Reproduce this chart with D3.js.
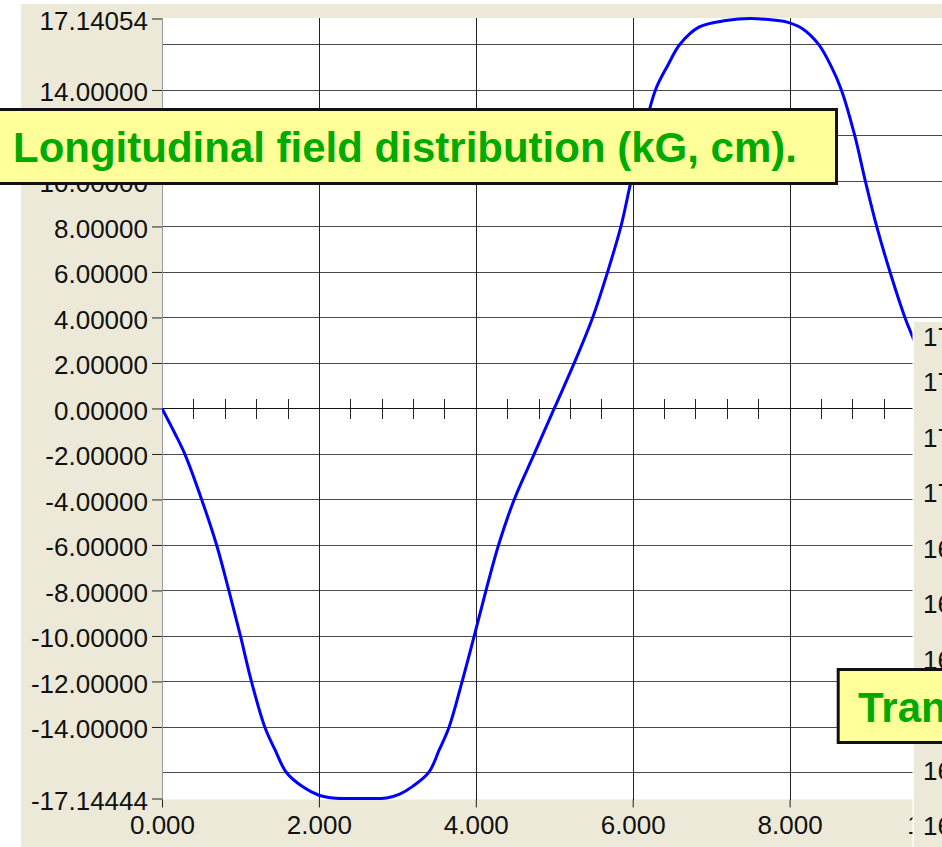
<!DOCTYPE html>
<html>
<head>
<meta charset="utf-8">
<script src="https://cdn.jsdelivr.net/npm/d3@7"></script>
<style>
  html, body { margin: 0; padding: 0; background: #ffffff; }
  svg { display: block; }
  text { font-family: "Liberation Sans", Arial, sans-serif; }
</style>
</head>
<body>
<svg id="chart" width="942" height="847"></svg>
<script>
// ---- data ----
const posCm = [0, 0.165, 0.29, 0.505, 0.696, 0.852, 1.0, 1.14, 1.31, 1.44, 1.586, 1.795, 2.0, 2.18, 2.5, 2.86, 3.03, 3.2, 3.40, 3.535, 3.66, 3.826, 3.98, 4.13, 4.29, 4.49, 4.745, 5.0, 5.255, 5.49, 5.68, 5.85, 5.98, 6.13, 6.29, 6.45, 6.60, 6.85, 7.19, 7.5, 7.82, 7.98, 8.16, 8.37, 8.535, 8.66, 8.83, 8.965, 9.11, 9.28, 9.47, 9.55, 9.71, 10.0];
const fieldKG = [0, -1.1, -2, -4, -6, -8, -10, -12, -14, -15, -16, -16.63, -17.0, -17.12, -17.14, -17.12, -16.95, -16.6, -16, -15, -14, -12, -10, -8, -6, -4, -2, 0, 2, 4, 6, 8, 10, 12, 14, 15.1, 16, 16.77, 17.05, 17.14, 17.06, 16.97, 16.70, 16, 15, 14, 12, 10, 8, 6, 4, 3.3, 2, 0];
const yMin = -17.14444, yMax = 17.14054;
const yTickVals = [17.14054, 14, 12, 10, 8, 6, 4, 2, 0, -2, -4, -6, -8, -10, -12, -14, -17.14444];
const yGridVals = [16, 14, 12, 10, 8, 6, 4, 2, -2, -4, -6, -8, -10, -12, -14, -16];
const xTickVals = [0, 2, 4, 6, 8, 10];
const xGridVals = [2, 4, 6, 8];
const minorStep = 0.4;
const titleMain = "Longitudinal field distribution (kG, cm).";
const titleSecond = "Transverse field distribution (kG, cm).";
const panelVals = [17.14054, 17.10, 17.05, 17.00, 16.95, 16.90, 16.85, 16.80, 16.75, 16.70];

// ---- layout ----
const W = 942, H = 847;
const beige = "#ECE9D8";
const svg = d3.select("#chart");
const fmt5 = v => d3.format(".5f")(v).replace("\u2212", "-");
const fmt3 = v => d3.format(".3f")(v).replace("\u2212", "-");

const x = d3.scaleLinear().domain([0, 10]).range([162, 946.5]);
const y = d3.scaleLinear().domain([yMin, yMax]).range([798.5, 18.5]);

// background
svg.append("rect").attr("x", 0).attr("y", 0).attr("width", W).attr("height", H).attr("fill", "#fff");
svg.append("rect").attr("x", 21).attr("y", 4).attr("width", W - 21).attr("height", H - 4).attr("fill", beige);

// plot area
const pTop = y(yMax) - 0.5, pBot = y(yMin) + 1;
svg.append("rect").attr("x", x(0)).attr("y", pTop).attr("width", W - x(0)).attr("height", pBot - pTop).attr("fill", "#fff");

svg.append("clipPath").attr("id", "clip").append("rect")
  .attr("x", x(0)).attr("y", pTop - 4).attr("width", W - x(0)).attr("height", pBot - pTop + 8);

const grid = svg.append("g").attr("shape-rendering", "crispEdges");
grid.selectAll("line.h").data(yGridVals).join("line")
  .attr("x1", x(0)).attr("x2", W)
  .attr("y1", d => Math.round(y(d)) + 0.5).attr("y2", d => Math.round(y(d)) + 0.5)
  .attr("stroke", "#4a4a4a").attr("stroke-width", 1);
grid.selectAll("line.v").data(xGridVals).join("line")
  .attr("x1", d => Math.round(x(d)) + 0.5).attr("x2", d => Math.round(x(d)) + 0.5)
  .attr("y1", pTop).attr("y2", pBot)
  .attr("stroke", "#222").attr("stroke-width", 1);

// zero line with minor ticks
const y0 = Math.round(y(0)) + 0.5;
grid.append("line").attr("x1", x(0)).attr("x2", W).attr("y1", y0).attr("y2", y0).attr("stroke", "#111");
const minor = d3.range(0, 10.0001, minorStep).filter(v => Math.abs(v / 2 - Math.round(v / 2)) > 1e-6);
grid.selectAll("line.m").data(minor).join("line")
  .attr("x1", d => Math.round(x(d)) + 0.5).attr("x2", d => Math.round(x(d)) + 0.5)
  .attr("y1", y0 - 10).attr("y2", y0 + 10).attr("stroke", "#222");

// left axis line
grid.append("line").attr("x1", x(0) + 0.5).attr("x2", x(0) + 0.5).attr("y1", pTop).attr("y2", pBot).attr("stroke", "#999");

// y axis
const yAxis = svg.append("g").attr("transform", `translate(${x(0)},0)`)
  .call(d3.axisLeft(y).tickValues(yTickVals).tickSize(10).tickPadding(4).tickFormat(fmt5));
yAxis.select(".domain").remove();
yAxis.selectAll(".tick line").attr("stroke", "#222");
yAxis.selectAll(".tick text").attr("font-size", 26).attr("fill", "#111").attr("dy", "0.42em")
  .style("font-family", '"Liberation Sans", Arial, sans-serif');

// x axis
const xAxis = svg.append("g").attr("transform", `translate(0,${pBot})`)
  .call(d3.axisBottom(x).tickValues(xTickVals).tickSize(8).tickFormat(fmt3));
xAxis.select(".domain").remove();
xAxis.selectAll(".tick line").attr("stroke", "#222");
xAxis.selectAll(".tick text").attr("font-size", 26).attr("fill", "#111").attr("y", 34).attr("dy", 0)
  .style("font-family", '"Liberation Sans", Arial, sans-serif');

// curve
const line = d3.line().x((d, i) => x(posCm[i])).y(d => y(d)).curve(d3.curveCatmullRom.alpha(0.5));
svg.append("path").datum(fieldKG).attr("d", line)
  .attr("fill", "none").attr("stroke", "#0000FF").attr("stroke-width", 3)
  .attr("stroke-linejoin", "round")
  .attr("clip-path", "url(#clip)");

// title box
svg.append("rect").attr("x", -6).attr("y", 109.5).attr("width", 842.5).attr("height", 74)
  .attr("fill", "#FFFF99").attr("stroke", "#111").attr("stroke-width", 3);
svg.append("text").attr("x", 13).attr("y", 162).attr("font-size", 42).attr("font-weight", "bold")
  .attr("fill", "#00AA00").text(titleMain);

// second (right) panel, partly visible
svg.append("rect").attr("x", 912.5).attr("y", 322).attr("width", W - 912.5).attr("height", H - 322).attr("fill", "#fff");
svg.append("rect").attr("x", 914).attr("y", 322).attr("width", W - 914).attr("height", H - 322).attr("fill", beige);
const py = d3.scaleLinear().domain([17.10, 16.70]).range([382, 826]);
svg.append("g").selectAll("text").data(panelVals).join("text")
  .attr("x", 923).attr("y", d => py(d) + 9).attr("font-size", 26).attr("fill", "#111")
  .text(d => fmt5(d));

// second title box
svg.append("rect").attr("x", 838.2).attr("y", 669.5).attr("width", 300).attr("height", 73)
  .attr("fill", "#FFFF99").attr("stroke", "#111").attr("stroke-width", 3);
svg.append("text").attr("x", 858).attr("y", 722).attr("font-size", 42).attr("font-weight", "bold")
  .attr("fill", "#00AA00").text(titleSecond);
</script>
</body>
</html>
